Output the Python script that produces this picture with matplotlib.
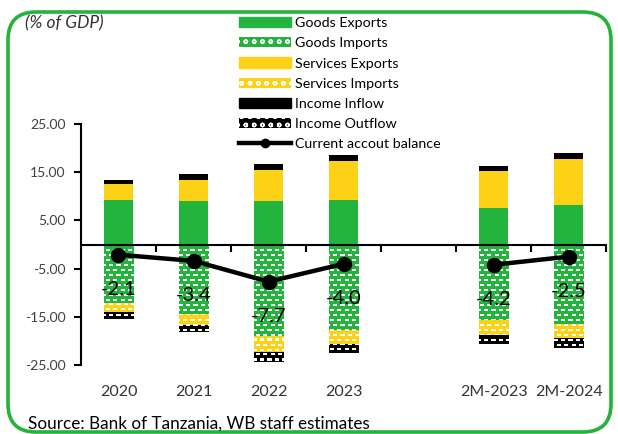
import numpy as np
import matplotlib.pyplot as plt
import matplotlib.colors as mcolors
from matplotlib.patches import FancyBboxPatch
from matplotlib.lines import Line2D

plt.rcParams['font.family'] = ['Lato', 'DejaVu Sans']

# data (% of GDP)
cats = ['2020', '2021', '2022', '2023', '', '2M-2023', '2M-2024']
goods_exp = [9.2, 9.0, 9.0, 9.2, np.nan, 7.5, 8.3]
serv_exp = [3.3, 4.5, 6.4, 8.1, np.nan, 7.8, 9.4]
inc_in = [0.9, 1.15, 1.3, 1.2, np.nan, 1.0, 1.3]
goods_imp = [-12.15, -14.4, -18.9, -17.7, np.nan, -15.6, -16.5]
serv_imp = [-1.95, -2.3, -3.45, -2.9, np.nan, -3.15, -2.8]
inc_out = [-1.4, -1.45, -2.1, -2.0, np.nan, -1.9, -2.2]
ca = [-2.1, -3.4, -7.7, -4.0, np.nan, -4.2, -2.5]

GREEN = '#22b43c'
YELLOW = '#fcd116'
BLACK = '#000000'

fig = plt.figure(figsize=(6.18, 4.34), dpi=100)
ax = fig.add_axes([0.131, 0.159, 0.850, 0.555])

x = np.arange(len(cats))
w = 0.39
ge = np.array(goods_exp)
se = np.array(serv_exp)
gi = np.array(goods_imp)
si = np.array(serv_imp)

ax.bar(x, goods_exp, w, color=GREEN, zorder=2)
ax.bar(x, serv_exp, w, bottom=ge, color=YELLOW, zorder=2)
ax.bar(x, inc_in, w, bottom=ge + se, color=BLACK, zorder=2)
b_gi = ax.bar(x, goods_imp, w, color=GREEN, zorder=2)
b_si = ax.bar(x, serv_imp, w, bottom=gi, color=YELLOW, zorder=2)
b_io = ax.bar(x, inc_out, w, bottom=gi + si, color=BLACK, zorder=2)

ax.set_xlim(-0.5, len(cats) - 0.5)
ax.set_ylim(-25, 25)


# white dash pattern for the import bars
def texture(color, h, wd):
    rgb = np.array(mcolors.to_rgb(color))
    img = np.ones((h, wd, 3)) * rgb
    yy, xx = np.mgrid[0:h, 0:wd]
    row = yy // 5
    mask = (yy % 5 < 2) & (((xx + 3 * (row % 2)) % 7) < 4)
    img[mask] = 1.0
    return img


bb = ax.get_window_extent()
th, tw = int(round(bb.height)), int(round(bb.width))
for cont, col in [(b_gi, GREEN), (b_si, YELLOW), (b_io, BLACK)]:
    img = texture(col, th, tw)
    for p in cont:
        if not np.isfinite(p.get_height()):
            continue
        im = ax.imshow(img, extent=(-0.5, len(cats) - 0.5, -25, 25),
                       aspect='auto', interpolation='nearest', zorder=2.5)
        im.set_clip_path(p)
ax.set_xlim(-0.5, len(cats) - 0.5)
ax.set_ylim(-25, 25)

ax.plot(x, ca, color='black', lw=3.2, marker='o', ms=10, zorder=4)
for i, v in enumerate(ca):
    if np.isfinite(v):
        ax.annotate(f'{v:.1f}', (i, v), xytext=(0, -25), textcoords='offset points',
                    ha='center', va='center', fontsize=14.5, zorder=5)

# axes styling
for s in ['top', 'right']:
    ax.spines[s].set_visible(False)
ax.spines['bottom'].set_position(('data', 0))
ax.spines['bottom'].set_linewidth(1.5)
ax.spines['left'].set_linewidth(1.5)
ax.set_yticks([25, 15, 5, -5, -15, -25])
ax.yaxis.set_major_formatter(lambda v, pos: f'{v:.2f}')
ax.tick_params(axis='y', direction='out', length=5, width=1.5, labelsize=10,
               labelcolor='#404040', pad=6)
ax.set_xticks(x, cats)
ax.set_xticks(list(x + 0.5), minor=True)
ax.tick_params(axis='x', which='major', length=0, pad=101, labelsize=11.5,
               labelcolor='#333333')
ax.tick_params(axis='x', which='minor', direction='out', length=5, width=1.5)

# legend
handles = [
    plt.Rectangle((0, 0), 1, 1, color=GREEN),
    plt.Rectangle((0, 0), 1, 1, facecolor=GREEN, edgecolor='white', hatch='oo', lw=0),
    plt.Rectangle((0, 0), 1, 1, color=YELLOW),
    plt.Rectangle((0, 0), 1, 1, facecolor=YELLOW, edgecolor='white', hatch='oo', lw=0),
    plt.Rectangle((0, 0), 1, 1, color=BLACK),
    plt.Rectangle((0, 0), 1, 1, facecolor=BLACK, edgecolor='white', hatch='oo', lw=0),
    Line2D([], [], color='black', lw=3.2, marker='o', ms=6),
]
labels = ['Goods Exports', 'Goods Imports', 'Services Exports', 'Services Imports',
          'Income Inflow', 'Income Outflow', 'Current accout balance']
fig.legend(handles, labels, loc='upper left', bbox_to_anchor=(0.377, 0.973),
           frameon=False, fontsize=10.3, handlelength=3.65, handleheight=0.7,
           labelspacing=0.56, handletextpad=0.3, borderaxespad=0)

fig.text(0.04, 0.945, '(% of GDP)', fontsize=12.5, style='italic', color='#333333',
         va='center')
fig.text(0.045, 0.025, 'Source: Bank of Tanzania, WB staff estimates', fontsize=12.3,
         color='black', va='center')

border = FancyBboxPatch((0.08, 0.02), 6.03, 4.2, boxstyle='round,pad=0,rounding_size=0.28',
                        transform=fig.dpi_scale_trans, fill=False, edgecolor=GREEN,
                        lw=2.6, clip_on=False)
fig.patches.append(border)

fig.savefig('out.png', dpi=100)
